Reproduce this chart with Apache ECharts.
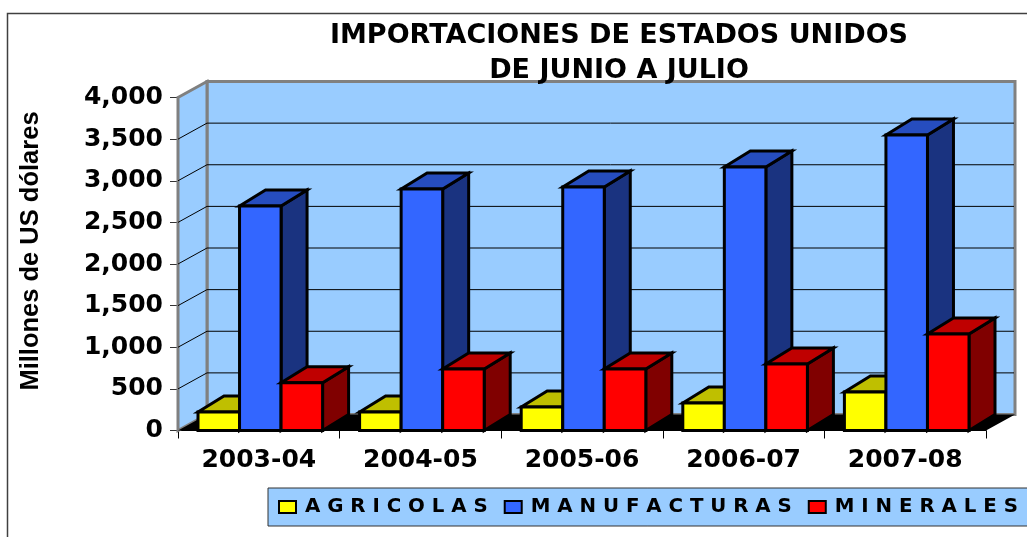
<!DOCTYPE html>
<html><head><meta charset="utf-8">
<style>html,body{margin:0;padding:0;background:#fff;overflow:hidden}#c{width:1027px;height:537px}</style>
<script src="https://cdn.jsdelivr.net/npm/echarts@6/dist/echarts.min.js"></script>
</head><body><div id="c"></div>
<script>
const categories = ['2003-04','2004-05','2005-06','2006-07','2007-08'];
const agricolas = [222,222,282,330,462];
const manufacturas = [2697,2900,2925,3165,3550];
const minerales = [574,739,739,799,1159];
const yTicks = [500,1000,1500,2000,2500,3000,3500,4000];
const titleText = 'IMPORTACIONES DE ESTADOS UNIDOS\nDE JUNIO A JULIO';
const yName = 'Millones de US dólares';
const names = ['A G R I C O L A S','M A N U F A C T U R A S','M I N E R A L E S'];

const FONT = '"DejaVu Sans"';
const WDX = 29, WDY = 16, BDX = 26, BDY = 16, WALL = '#99ccff', GRAY = '#808080';
const chart = echarts.init(document.getElementById('c'));

function wallItem(params, api) {
  const g = params.coordSys;
  const x0 = g.x, x1 = g.x + g.width, yb = api.coord([0, 0])[1], yt = api.coord([0, 4000])[1];
  const ln = {stroke: GRAY, fill: WALL, lineWidth: 3, lineJoin: 'miter'};
  return {type: 'group', children: [
    {type: 'polygon', shape: {points: [[x0+WDX,yt-WDY],[x1+WDX,yt-WDY],[x1+WDX,yb-WDY],[x0+WDX,yb-WDY]]}, style: ln},
    {type: 'polygon', shape: {points: [[x0,yt],[x0+WDX,yt-WDY],[x0+WDX,yb-WDY],[x0,yb]]}, style: ln}
  ]};
}
function gridItem(params, api) {
  const g = params.coordSys, y = api.coord([0, api.value(0)])[1];
  if (api.value(0) >= 4000) return {type: 'group', children: []};
  const st = {stroke: '#000', lineWidth: 1, fill: null};
  return {type: 'group', children: [
    {type: 'polyline', shape: {points: [[g.x, y],[g.x+WDX, y-WDY],[g.x+g.width+WDX-1, y-WDY]]}, style: st}
  ]};
}
function floorItem(params, api) {
  const g = params.coordSys, yb = api.coord([0, 0])[1];
  return {type: 'polygon', shape: {points: [[g.x,yb],[g.x+WDX,yb-WDY],[g.x+g.width+WDX,yb-WDY],[g.x+g.width,yb]]}, style: {fill: '#000'}};
}
function barRenderer(slot, front, top, side) {
  return function (params, api) {
    const i = api.value(0), v = api.value(1);
    const band = api.size([1, 0])[0], w = band * 0.257;
    const c = api.coord([i, v]), yb = api.coord([i, 0])[1];
    const x0 = c[0] + 1.5 + (slot - 1.5) * w, x1 = x0 + w, yt = c[1];
    const edge = {stroke: '#000', lineWidth: 3, lineJoin: 'miter'};
    return {type: 'group', children: [
      {type: 'polygon', shape: {points: [[x1,yt],[x1+BDX,yt-BDY],[x1+BDX,yb-BDY],[x1,yb]]}, style: Object.assign({fill: side}, edge)},
      {type: 'polygon', shape: {points: [[x0,yt],[x0+BDX,yt-BDY],[x1+BDX,yt-BDY],[x1,yt]]}, style: Object.assign({fill: top}, edge)},
      {type: 'polygon', shape: {points: [[x0,yt],[x1,yt],[x1,yb],[x0,yb]]}, style: Object.assign({fill: front}, edge)}
    ]};
  };
}
function barSeries(name, values, slot, front, top, side) {
  return {type: 'custom', name, silent: true, z: 5, data: values.map((v, i) => [i, v]),
    encode: {x: 0, y: 1}, itemStyle: {color: front},
    renderItem: barRenderer(slot, front, top, side)};
}
chart.setOption({
  animation: false,
  backgroundColor: '#fff',
  textStyle: {fontFamily: FONT},
  title: {text: titleText, left: 614, top: 13, textAlign: 'center',
    textStyle: {fontFamily: FONT, fontWeight: 'bold', fontSize: 27, lineHeight: 35, color: '#000'}},
  grid: {left: 178, top: 97.5, width: 808, height: 333},
  legend: {left: 268, top: 488, width: 800, padding: [9, 10, 9, 10], itemGap: 16, itemWidth: 17, itemHeight: 12,
    data: names.map(n => ({name: n, icon: 'rect'})),
    backgroundColor: WALL, borderColor: '#333', borderWidth: 1,
    itemStyle: {borderColor: '#000', borderWidth: 2},
    textStyle: {fontFamily: FONT, fontWeight: 'bold', fontSize: 19.8, color: '#000', padding: [0,0,0,4]}},
  xAxis: {type: 'category', data: categories,
    axisLine: {show: true, lineStyle: {color: '#000', width: 1}},
    axisTick: {show: true, length: 8, lineStyle: {color: '#000'}},
    axisLabel: {margin: 17, color: '#000', fontFamily: FONT, fontWeight: 'bold', fontSize: 25},
    splitLine: {show: false}},
  yAxis: {type: 'value', min: 0, max: 4000, interval: 500,
    name: yName, nameLocation: 'middle', nameRotate: 90, nameGap: 134,
    nameTextStyle: {fontFamily: '"Liberation Sans"', fontWeight: 'bold', fontSize: 25.5, color: '#000', padding: [0,0,0,26]},
    axisLine: {show: true, lineStyle: {color: GRAY, width: 2}},
    axisTick: {show: true, length: 8, lineStyle: {color: '#333'}},
    axisLabel: {margin: 15, color: '#000', fontFamily: FONT, fontWeight: 'bold', fontSize: 25, formatter: v => v.toLocaleString('en-US')},
    splitLine: {show: false}},
  series: [
    {type: 'custom', silent: true, z: 1, data: [[0]], renderItem: wallItem},
    {type: 'custom', silent: true, z: 2, data: yTicks.map(v => [v]), encode: {y: 0}, renderItem: gridItem},
    {type: 'custom', silent: true, z: 3, data: [[0]], renderItem: floorItem},
    barSeries(names[0], agricolas, 0, '#ffff00', '#bfbf00', '#808000'),
    barSeries(names[1], manufacturas, 1, '#3366ff', '#264dbf', '#1a3380'),
    barSeries(names[2], minerales, 2, '#ff0000', '#bf0000', '#800000')
  ],
  graphic: [
    {type: 'polyline', z: 0, silent: true, shape: {points: [[7.5,537],[7.5,13.5],[1027,13.5]]}, style: {stroke: '#404040', lineWidth: 1.5, fill: null}}
  ]
});
</script></body></html>
